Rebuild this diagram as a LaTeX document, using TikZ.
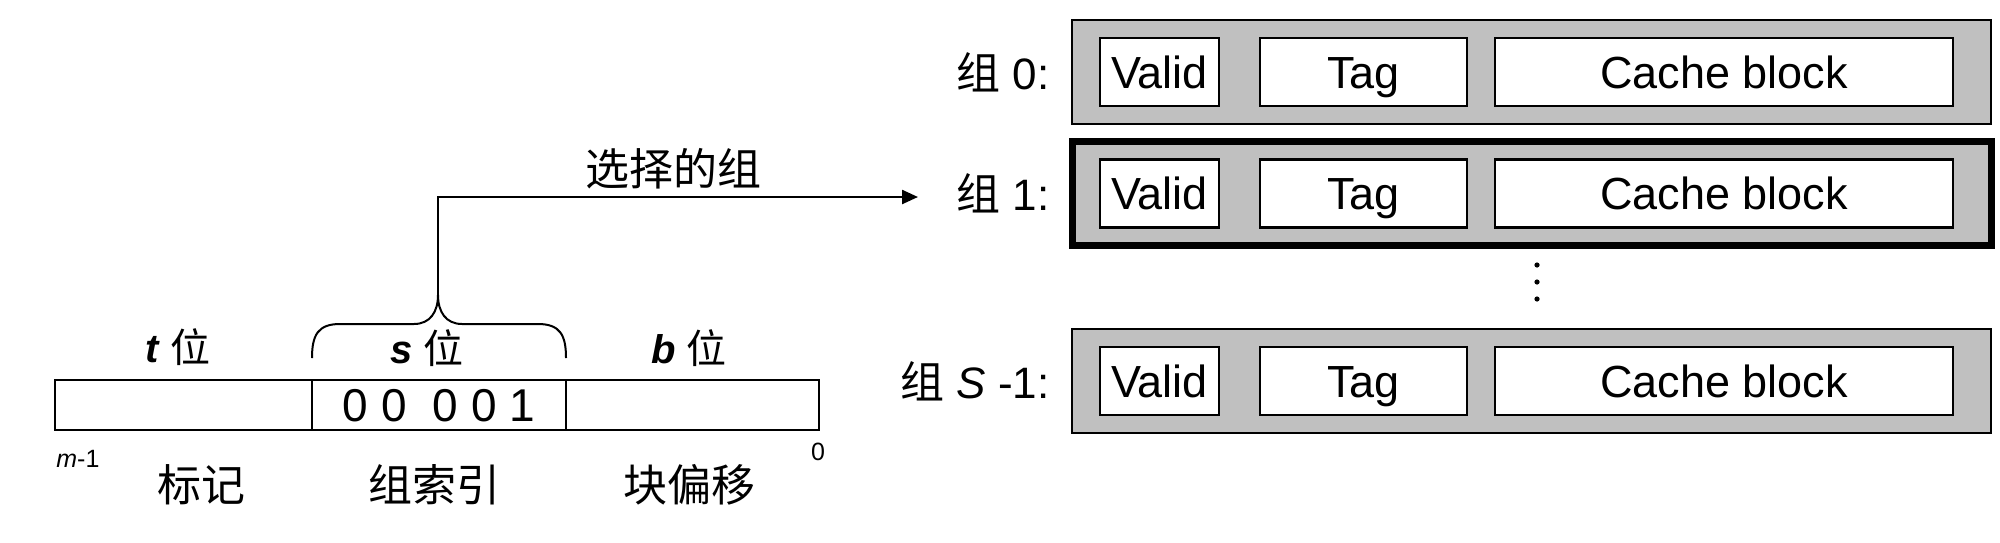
\documentclass[tikz,border=0pt]{standalone}
\usepackage{fontspec}
\setmainfont{Liberation Sans}
\newfontfamily\cjk{Noto Sans CJK SC}
\usetikzlibrary{arrows.meta}
\definecolor{setgray}{RGB}{192,192,192}
\begin{document}
\begin{tikzpicture}[x=0.5pt,y=-0.5pt,
  setbox/.style={draw=black, fill=setgray, line width=1.4pt, minimum width=459.5pt, minimum height=52pt, inner sep=0pt},
  selbox/.style={setbox, line width=3.5pt},
  field/.style={draw=black, fill=white, line width=1.4pt, minimum height=34pt, inner sep=0pt, text height=16.1pt, text depth=0pt, font=\fontsize{22.5}{26}\selectfont},
  bitfield/.style={draw=black, fill=white, line width=1.4pt, minimum height=25pt, inner sep=0pt, text height=16.5pt, text depth=0pt, font=\fontsize{23}{27}\selectfont},
  lbl/.style={font=\fontsize{22}{26}\selectfont, inner sep=0pt},
  bitlbl/.style={font=\fontsize{20}{24}\selectfont, inner sep=0pt, anchor=base},
  small/.style={font=\fontsize{12.5}{15}\selectfont, inner sep=0pt},
  conn/.style={line width=1.2pt, -{Triangle[length=8pt,width=7pt]}},
  bracepath/.style={line width=1pt}
]
\useasboundingbox (0,0) rectangle (2000,542);

% cache sets
\node[setbox] (set0) at (1531.5,72) {};
\node[selbox] (set1) at (1531.5,193.5) {};
\node[setbox] (setS) at (1531.5,381) {};

\foreach \s/\y in {0/72, 1/193.5, S/381}{
  \node[field, minimum width=59.5pt] (valid\s) at (1159.5,\y) {Valid};
  \node[field, minimum width=103.5pt] (tag\s) at (1363.5,\y) {Tag};
  \node[field, minimum width=229pt] (cache\s) at (1724,\y) {Cache block};
}

\node[lbl, anchor=east] (l0) at (1050,72) {{\cjk 组} 0:};
\node[lbl, anchor=east] (l1) at (1050,193.5) {{\cjk 组} 1:};
\node[lbl, anchor=east] (lS) at (1050,381) {{\cjk 组} \textit{S} -1:};

\fill (1537,265) circle (2.6);
\fill (1537,282) circle (2.6);
\fill (1537,299) circle (2.6);

% address bits
\node[bitfield, minimum width=128.5pt] (tf) at (183.5,405) {};
\node[bitfield, minimum width=127pt] (sf) at (439,405) {0 0\hspace{0.56em}0 0 1};
\node[bitfield, minimum width=126.5pt] (bf) at (692.5,405) {};

\node[bitlbl] (tl) at (178,362) {\textbf{\textit{t}} {\cjk 位}};
\node[bitlbl] (sl) at (427,363) {\textbf{\textit{s}} {\cjk 位}};
\node[bitlbl] (bl) at (689,363) {\textbf{\textit{b}} {\cjk 位}};

\node[small, anchor=base west] (m1) at (56,467) {\textit{m}-1};
\node[small, anchor=base] (z0) at (818,460) {0};

\node[lbl] (tagname) at (201,485) {\cjk 标记};
\node[lbl] (setidx) at (434,485) {\cjk 组索引};
\node[lbl] (boff) at (689,485) {\cjk 块偏移};

\node[lbl] (sel) at (673,169) {\cjk 选择的组};

% brace
\coordinate (tip) at (438,295);
\coordinate (aend) at (918,197);
\draw[bracepath] (312,358) .. controls (312,335) and (318,324) .. (340,324) -- (414,324)
  .. controls (430,324) and (438,312) .. (tip)
  .. controls (438,312) and (446,324) .. (462,324) -- (538,324)
  .. controls (560,324) and (566,335) .. (566,358);

\draw[conn] (tip) |- (aend);
\end{tikzpicture}
\end{document}
